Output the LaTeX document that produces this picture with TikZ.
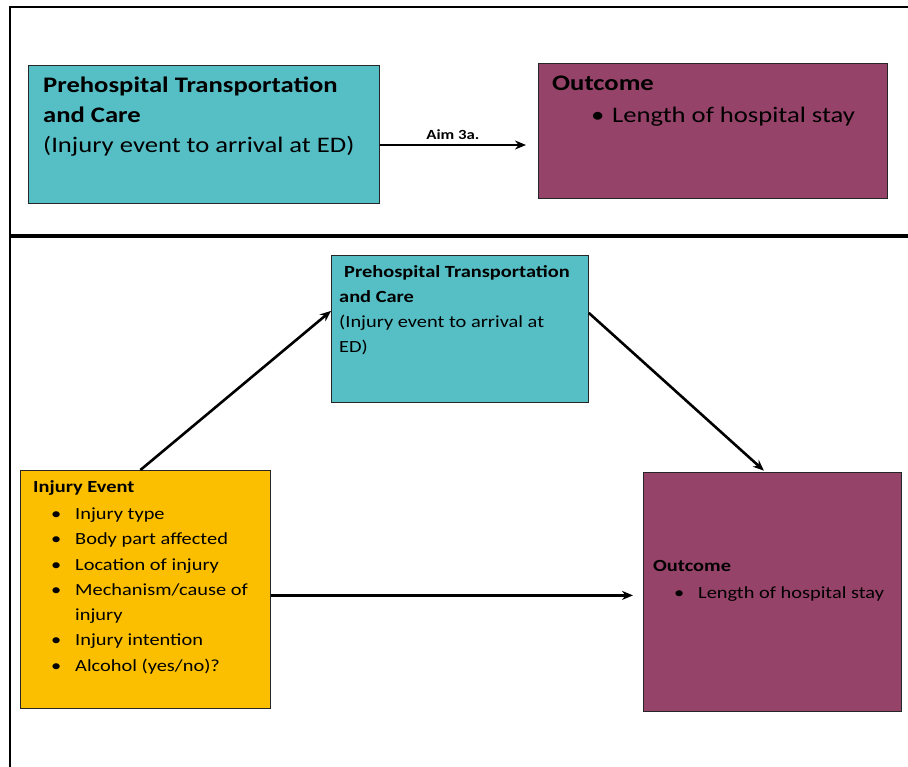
\documentclass[tikz,border=0pt]{standalone}
\usepackage{fontspec}
\setmainfont[FakeStretch=1.2]{Carlito}
\usetikzlibrary{arrows.meta}
\definecolor{prehosp}{HTML}{56BEC5}
\definecolor{outc}{HTML}{964369}
\definecolor{injury}{HTML}{FBBF00}
\tikzset{
  box/.style={draw=black!85,line width=0.8pt,inner sep=0pt,anchor=north west},
  txt/.style={inner sep=0pt,anchor=north west,align=left},
  link/.style={-{Stealth[length=11pt,width=9pt]},line width=2.6pt},
}
\newcommand{\bul}[2][19pt]{\makebox[#1][l]{\textbullet}#2}
\begin{document}
\begin{tikzpicture}[x=1pt,y=-1pt]
\useasboundingbox (0,0) rectangle (908,767);
% frame
\coordinate (ftl) at (10,7);
\coordinate (ftr) at (908,7);
\coordinate (fbl) at (10,767);
\coordinate (dl) at (10,236);
\coordinate (dr) at (908,236);
\draw[line width=1.5pt](ftr)--(ftl)--(fbl);
\draw[line width=4pt](dl)--(dr);

% top panel
\node[box,fill=prehosp,minimum width=351pt,minimum height=138pt](tpre) at (28,65){};
\node[box,fill=outc,minimum width=349pt,minimum height=135pt](tout) at (538,63){};
\node[txt,font=\fontsize{22.2}{30}\selectfont](tpretxt) at (43,77){\textbf{Prehospital Transportation}\\\textbf{and Care}\\(Injury event to arrival at ED)};
\node[txt,font=\fontsize{22.2}{32}\selectfont](touttxt) at (552,76){\textbf{Outcome}\\\hspace*{39pt}\bul[21pt]{Length of hospital stay}};
\draw[link,shorten >=12pt](tpre.east|-0,145)--(tout.west|-0,145)node[midway,above=1pt,xshift=-6pt,font=\bfseries\fontsize{14}{16}\selectfont]{Aim 3a.};

% bottom panel
\node[box,fill=prehosp,minimum width=257pt,minimum height=147pt](bpre) at (331,255){};
\node[box,fill=injury,minimum width=250pt,minimum height=238pt](ievt) at (20,470){};
\node[box,fill=outc,minimum width=258pt,minimum height=239pt](bout) at (643,472){};
\node[txt,font=\fontsize{17}{25}\selectfont](bpretxt) at (339,265){\hspace*{5pt}\textbf{Prehospital Transportation}\\\textbf{and Care}\\(Injury event to arrival at\\ED)};
\node[txt,font=\fontsize{17}{25.3}\selectfont](ievttxt) at (33,480){\textbf{Injury Event}\\[2pt]
\hspace*{18pt}\bul[24pt]{Injury type}\\
\hspace*{18pt}\bul[24pt]{Body part affected}\\
\hspace*{18pt}\bul[24pt]{Location of injury}\\
\hspace*{18pt}\bul[24pt]{Mechanism/cause of}\\
\hspace*{42pt}injury\\
\hspace*{18pt}\bul[24pt]{Injury intention}\\
\hspace*{18pt}\bul[24pt]{Alcohol (yes/no)?}};
\node[txt,font=\fontsize{17}{27}\selectfont](bouttxt) at (653,560){\textbf{Outcome}\\\hspace*{21pt}\bul[24pt]{Length of hospital stay}};

\draw[link]([xshift=-5pt]ievt.north)--([yshift=18pt]bpre.west);
\draw[link,shorten >=2pt]([yshift=16pt]bpre.east)--([xshift=-7pt]bout.north);
\draw[link,shorten >=10pt]([yshift=-6pt]ievt.east)--([yshift=-6pt]bout.west|-ievt.east);
\end{tikzpicture}
\end{document}
